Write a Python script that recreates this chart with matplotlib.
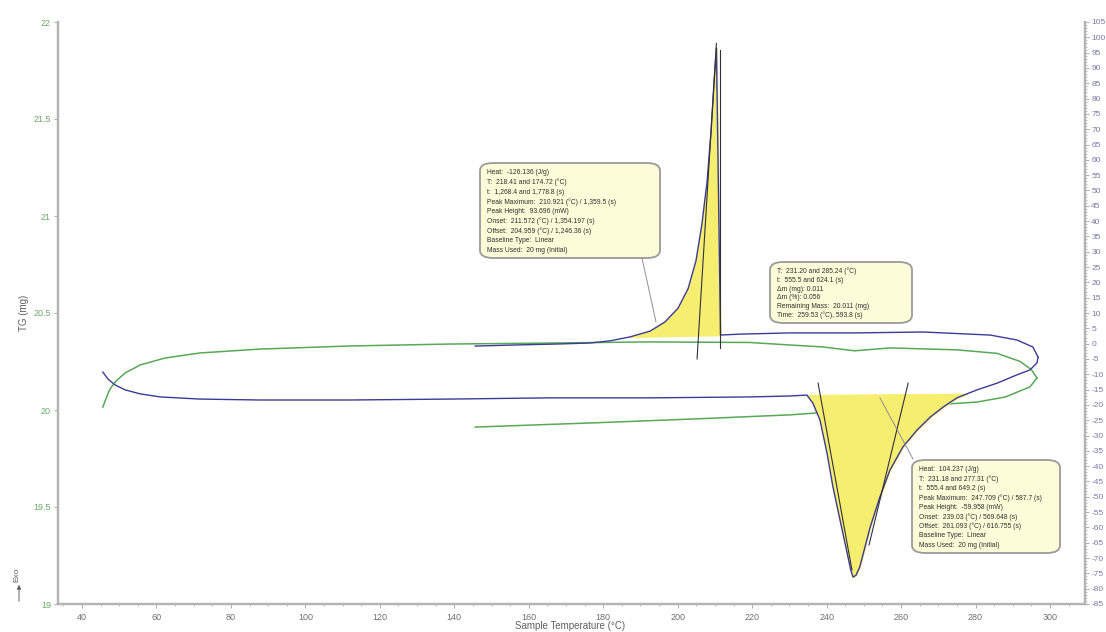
import numpy as np
import matplotlib.pyplot as plt
from matplotlib.patches import FancyBboxPatch

plt.rcParams['font.family'] = ['Liberation Sans', 'DejaVu Sans']
plt.rcParams['axes.unicode_minus'] = False

#%% Data

# heat flow (mW), heating run
hf_heat_T = [45.6, 47.0, 48.9, 51.6, 55.6, 61.0, 71.7, 87.8, 112.0, 138.8, 165.7,
             192.6, 219.4, 230.0, 234.7, 236.3, 238.2, 240.1, 241.7, 243.6, 245.5,
             246.5, 247.1, 247.9, 248.9, 251.7, 254.3, 257.0, 260.5, 264.3, 267.8,
             271.3, 275.0, 277.7, 280.4, 285.8, 291.1, 294.6, 296.5, 296.8]
hf_heat = [-9.3, -11.6, -13.5, -15.1, -16.4, -17.4, -18.1, -18.4, -18.4, -18.1, -17.7,
           -17.7, -17.4, -17.1, -16.8, -19.4, -24.9, -35.7, -46.8, -57.6, -68.3,
           -74.0, -76.2, -75.6, -72.9, -59.9, -50.1, -41.3, -33.7, -28.2, -24.0,
           -20.7, -17.7, -16.4, -15.1, -12.9, -10.2, -8.6, -6.3, -4.4]

# heat flow (mW), cooling run
hf_cool_T = [296.8, 295.4, 291.1, 283.9, 265.9, 248.2, 230.2, 216.7, 211.5,
             210.4, 209.8, 209.0, 207.9, 206.5, 204.9, 202.8, 200.1, 196.6, 192.6,
             187.2, 181.8, 176.4, 168.4, 157.6, 145.6]
hf_cool = [-4.4, -1.1, 1.2, 2.8, 3.8, 3.5, 3.5, 3.1, 2.8,
           96.5, 86.0, 70.0, 53.0, 39.0, 27.0, 18.0, 11.6, 7.1, 4.1,
           2.2, 0.9, 0.2, -0.1, -0.4, -0.8]

# TG (mg), heating run
tg_heat_T = [45.6, 46.5, 47.5, 49.1, 51.6, 55.6, 62.3, 71.7, 87.8, 112.0, 138.8,
             165.7, 192.6, 219.4, 230.2, 239.0, 247.5, 257.0, 275.0, 285.8, 292.0,
             295.0, 296.5]
tg_heat = [20.015, 20.062, 20.108, 20.149, 20.191, 20.232, 20.268, 20.294, 20.314,
           20.330, 20.340, 20.345, 20.351, 20.348, 20.335, 20.325, 20.305, 20.320,
           20.310, 20.292, 20.250, 20.208, 20.165]

# TG (mg), cooling run
tg_cool_T = [296.5, 294.6, 288.0, 280.4, 259.7, 230.2, 206.0, 179.1, 145.6]
tg_cool = [20.165, 20.119, 20.067, 20.041, 20.015, 19.975, 19.955, 19.935, 19.912]

endo_lim = (234.7, 277.7)
exo_lim = (185.0, 211.5)

box_exo = ["Heat:  -126.136 (J/g)",
           "T:  218.41 and 174.72 (°C)",
           "t:  1,268.4 and 1,778.8 (s)",
           "Peak Maximum:  210.921 (°C) / 1,359.5 (s)",
           "Peak Height:  93.696 (mW)",
           "Onset:  211.572 (°C) / 1,354.197 (s)",
           "Offset:  204.959 (°C) / 1,246.36 (s)",
           "Baseline Type:  Linear",
           "Mass Used:  20 mg (Initial)"]
box_mass = ["T:  231.20 and 285.24 (°C)",
            "t:  555.5 and 624.1 (s)",
            "Δm (mg): 0.011",
            "Δm (%): 0.056",
            "Remaining Mass:  20.011 (mg)",
            "Time:  259.53 (°C), 593.8 (s)"]
box_endo = ["Heat:  104.237 (J/g)",
            "T:  231.18 and 277.31 (°C)",
            "t:  555.4 and 649.2 (s)",
            "Peak Maximum:  247.709 (°C) / 587.7 (s)",
            "Peak Height:  -59.958 (mW)",
            "Onset:  239.03 (°C) / 569.648 (s)",
            "Offset:  261.093 (°C) / 616.755 (s)",
            "Baseline Type:  Linear",
            "Mass Used:  20 mg (Initial)"]

#%% Plot

W, H = 1106, 632
green = "#58a858"
blue = "#3c3c96"
yellow = "#f5ee6e"
spine_c = "#b4b4b4"

fig = plt.figure(figsize=(W / 100, H / 100), dpi=100)
ax = fig.add_axes([58 / W, 28 / H, 1027 / W, 582 / H])
ax2 = ax.twinx()

ax.plot(tg_heat_T, tg_heat, color=green, lw=1.1)
ax.plot(tg_cool_T, tg_cool, color=green, lw=1.1)
ax.set_xlim(33.55, 309.4)
ax.set_ylim(19, 22)
ax.set_yticks([19, 19.5, 20, 20.5, 21, 21.5, 22])
ax.set_yticklabels(["19", "19.5", "20", "20.5", "21", "21.5", "22"])
ax.set_xticks(np.arange(40, 301, 20))
ax.set_xticks(np.arange(35, 310, 5), minor=True)

ax2.plot(hf_heat_T, hf_heat, color=blue, lw=1.0)
ax2.plot(hf_cool_T, hf_cool, color=blue, lw=1.0)
ax2.set_ylim(-85, 105)
ax2.set_yticks(np.arange(-85, 106, 5))
ax2.set_yticks(np.arange(-85, 106, 1), minor=True)

# endotherm fill against linear baseline
x = np.array(hf_heat_T)
y = np.array(hf_heat)
m = (x >= endo_lim[0]) & (x <= endo_lim[1])
base = y[m][0] + (x[m] - x[m][0]) * (y[m][-1] - y[m][0]) / (x[m][-1] - x[m][0])
ax2.fill_between(x[m], y[m], base, color=yellow, zorder=1)

# exotherm fill
x = np.array(hf_cool_T)
y = np.array(hf_cool)
m = (x >= exo_lim[0]) & (x <= exo_lim[1])
base = y[m][0] + (x[m] - x[m][0]) * (y[m][-1] - y[m][0]) / (x[m][-1] - x[m][0])
ax2.fill_between(x[m], y[m], base, color=yellow, zorder=1)

# tangent lines
ax2.plot([205.2, 210.4], [-5.0, 98.0], color="#303040", lw=0.8)
ax2.plot([211.3, 211.3], [-1.4, 96.0], color="#303040", lw=0.8)
ax2.plot([237.7, 246.8], [-12.9, -73.9], color="#303040", lw=0.8)
ax2.plot([261.9, 251.4], [-12.9, -65.7], color="#303040", lw=0.8)

for a in (ax, ax2):
    a.spines["top"].set_visible(False)
    for s in a.spines.values():
        s.set_color(spine_c)
        s.set_linewidth(1.6)
ax.tick_params(axis="y", colors=spine_c, labelcolor="#6aaa6a", labelsize=6.5, length=3, pad=2)
ax.tick_params(axis="x", colors=spine_c, labelcolor="#707070", labelsize=6.5, length=3)
ax.tick_params(axis="x", which="minor", colors=spine_c, length=1.5)
ax2.tick_params(axis="y", colors=spine_c, labelcolor="#7878a8", labelsize=6, length=3, pad=1.5)
ax2.tick_params(axis="y", which="minor", colors=spine_c, length=1.5)

ax.set_ylabel("TG (mg)", fontsize=7, color="#606060", labelpad=3)
fig.text(570 / W, 1 - 626 / H, "Sample Temperature (°C)", fontsize=7, color="#606060",
         ha="center", va="center")
fig.text(17 / W, 1 - 575 / H, "Exo", fontsize=6, color="#606060", rotation=90,
         ha="center", va="center")
ax.annotate("", xy=(19 / W, 1 - 582 / H), xytext=(19 / W, 1 - 604 / H),
            xycoords="figure fraction", textcoords="figure fraction",
            annotation_clip=False,
            arrowprops=dict(arrowstyle="-|>", color="#606060", lw=0.7, mutation_scale=6))

# leader lines (figure pixels)
def px(xp, yp):
    return xp / W, 1 - yp / H

for (x0, y0), (x1, y1) in [((642, 258), (656, 322)), ((913, 459), (880, 398))]:
    fig.add_artist(plt.Line2D([x0 / W, x1 / W], [1 - y0 / H, 1 - y1 / H],
                              color="#909090", lw=0.7, transform=fig.transFigure))

def draw_box(lines, x0, y0, x1, y1):
    fig.add_artist(FancyBboxPatch(px(x0, y1), (x1 - x0) / W, (y1 - y0) / H,
                                  boxstyle="round,pad=0,rounding_size=0.012",
                                  transform=fig.transFigure, facecolor="#fdfcd8",
                                  edgecolor="#9a9a9a", lw=1.3))
    step = (y1 - y0 - 8) / len(lines)
    for i, t in enumerate(lines):
        fig.text(*px(x0 + 7, y0 + 5 + step * (i + 0.5)), t, fontsize=4.9,
                 color="#303030", va="center", ha="left")

draw_box(box_exo, 480, 163, 660, 258)
draw_box(box_mass, 770, 262, 912, 323)
draw_box(box_endo, 912, 460, 1060, 553)

fig.savefig("out.png", dpi=100)
